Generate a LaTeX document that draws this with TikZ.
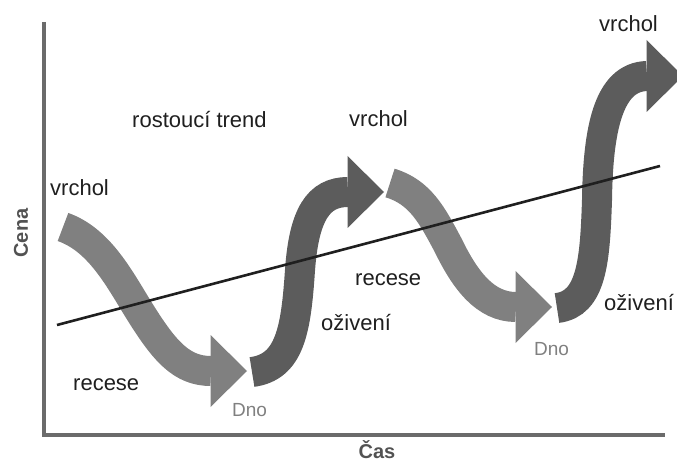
\documentclass[tikz,border=0pt]{standalone}
\usepackage{fontspec}
\setmainfont{Liberation Sans}
\usetikzlibrary{calc}
\begin{document}
\begin{tikzpicture}[x=1pt,y=-1pt,
  lbl/.style={anchor=base west, inner sep=0pt, font=\fontsize{22}{26}\selectfont, text=black!88},
  dno/.style={anchor=base west, inner sep=0pt, font=\fontsize{19}{22}\selectfont, text=black!50},
  axlbl/.style={inner sep=0pt, font=\fontsize{20}{24}\selectfont\bfseries, text=black!68},
  axisline/.style={line width=3.6pt, draw=black!58, line join=miter},
  trendline/.style={line width=2.6pt, draw=black!88},
  fallbody/.style={line width=30pt, draw=black!50},
  risebody/.style={line width=30pt, draw=black!64},
  fallhead/.style={fill=black!50},
  risehead/.style={fill=black!64},
  ]
\useasboundingbox (0,0) rectangle (677,462);
\clip (0,0) rectangle (677,462);

% axes
\coordinate (ytop) at (44,22);
\coordinate (origin) at (44,435);
\coordinate (xend) at (665,435);
\draw[axisline] (ytop) -- (origin) -- (xend);

% phase arrows: tails and head bases
\coordinate (f1t) at (63,227);  \coordinate (f1h) at (211,371);
\coordinate (r1t) at (252,372); \coordinate (r1h) at (348,192);
\coordinate (f2t) at (390,183); \coordinate (f2h) at (516,307);
\coordinate (r2t) at (557,308); \coordinate (r2h) at (647,76);

% first recession
\draw[fallbody] (f1t) .. controls (100,240) and (120,280) .. (140,312)
  .. controls (165,352) and (182,371) .. (f1h);
\fill[fallhead] ($(f1h)+(-0.5,-36)$) -- ($(f1h)+(36,0)$) -- ($(f1h)+(-0.5,36)$) -- cycle;

% first recovery
\draw[risebody] (r1t) .. controls (290,367) and (296,330) .. (300,270)
  .. controls (304,215) and (318,192) .. (r1h);
\fill[risehead] ($(r1h)+(-0.5,-36)$) -- ($(r1h)+(36,0)$) -- ($(r1h)+(-0.5,36)$) -- cycle;

% second recession
\draw[fallbody] (f2t) .. controls (420,192) and (432,215) .. (448,245)
  .. controls (465,280) and (485,307) .. (f2h);
\fill[fallhead] ($(f2h)+(-0.5,-36)$) -- ($(f2h)+(36,0)$) -- ($(f2h)+(-0.5,36)$) -- cycle;

% second recovery
\draw[risebody] (r2t) .. controls (592,304) and (595,260) .. (597,200)
  .. controls (598,130) and (608,77) .. (r2h);
\fill[risehead] ($(r2h)+(-0.5,-36)$) -- ($(r2h)+(36,0)$) -- ($(r2h)+(-0.5,36)$) -- cycle;

% rising trend line
\coordinate (tr0) at (57,325);
\coordinate (tr1) at (660,166);
\draw[trendline] (tr0) -- (tr1);

% labels
\node[lbl] (peak1) at (50,196) {vrchol};
\node[lbl] (trend) at (132,128) {rostoucí trend};
\node[lbl] (peak2) at (349,127) {vrchol};
\node[lbl] (peak3) at (599,32) {vrchol};
\node[lbl] (rec1) at (73,390) {recese};
\node[lbl] (rec2) at (355,286) {recese};
\node[lbl] (rev1) at (321,330) {oživení};
\node[lbl] (rev2) at (604,310) {oživení};
\node[dno] (low1) at (232,416) {Dno};
\node[dno] (low2) at (534,355) {Dno};
\node[axlbl, rotate=90] (ylab) at (21,233) {Cena};
\node[axlbl, anchor=base] (xlab) at (377,458) {Čas};
\end{tikzpicture}
\end{document}
